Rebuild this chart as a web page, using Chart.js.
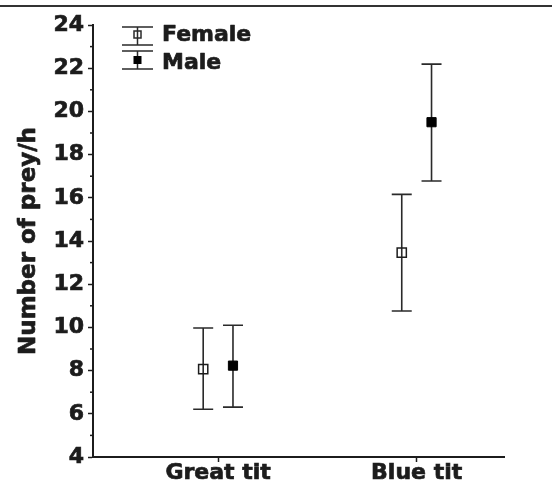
<!DOCTYPE html>
<html>
<head>
<meta charset="utf-8">
<script src="https://cdn.jsdelivr.net/npm/chart.js@4/dist/chart.umd.min.js"></script>
<style>
  html, body { margin: 0; padding: 0; background: #fff; }
  #wrap { width: 552px; height: 486px; }
</style>
</head>
<body>
<div id="wrap"><canvas id="chart" width="552" height="486"></canvas></div>
<script>
// data
const categories = ["Great tit", "Blue tit"];
const seriesNames = ["Female", "Male"];
const femaleMean = [8.07, 13.46];
const femaleUpper = [9.97, 16.16];
const femaleLower = [6.21, 10.76];
const maleMean = [8.23, 19.5];
const maleUpper = [10.1, 22.19];
const maleLower = [6.31, 16.78];
const yMin = 4;
const yMax = 24;
const yStep = 2;
const yTitle = "Number of prey/h";

// look
const ink = "#1c1c1c";
const fontFamily = "'DejaVu Sans', 'Liberation Sans', Arial, sans-serif";
const shift = 0.075; // horizontal dodge between female / male
const capHalf = 10;
const stroke = 0.7; // thickens the bold text a bit

const femalePoints = femaleMean.map((v, i) => ({ x: i + 1 - shift, y: v }));
const malePoints = maleMean.map((v, i) => ({ x: i + 1 + shift, y: v }));

function heavyText(ctx, text, x, y) {
  ctx.lineWidth = stroke;
  ctx.lineJoin = "round";
  ctx.strokeStyle = ink;
  ctx.fillStyle = ink;
  ctx.strokeText(text, x, y);
  ctx.fillText(text, x, y);
}

// error bars, minor ticks, axis title, legend and the top rule
const extras = {
  id: "extras",
  beforeDatasetsDraw(chart) {
    const ctx = chart.ctx;
    const xs = chart.scales.x;
    const ys = chart.scales.y;
    const groups = [
      [femalePoints, femaleUpper, femaleLower],
      [malePoints, maleUpper, maleLower],
    ];
    ctx.save();
    ctx.strokeStyle = "#2a2a2a";
    ctx.lineWidth = 1.6;
    groups.forEach(function (g) {
      g[0].forEach(function (p, i) {
        const px = xs.getPixelForValue(p.x);
        const top = ys.getPixelForValue(g[1][i]);
        const bot = ys.getPixelForValue(g[2][i]);
        ctx.beginPath();
        ctx.moveTo(px, top);
        ctx.lineTo(px, bot);
        ctx.moveTo(px - capHalf, top);
        ctx.lineTo(px + capHalf, top);
        ctx.moveTo(px - capHalf, bot);
        ctx.lineTo(px + capHalf, bot);
        ctx.stroke();
      });
    });
    ctx.restore();
  },
  afterDraw(chart) {
    const ctx = chart.ctx;
    const ys = chart.scales.y;
    const area = chart.chartArea;
    ctx.save();
    // top rule of the figure
    ctx.fillStyle = "#333";
    ctx.fillRect(0, 5, chart.width, 2);

    // minor ticks at odd values
    ctx.strokeStyle = ink;
    ctx.lineWidth = 1.5;
    for (let v = yMin + yStep / 2; v < yMax; v += yStep) {
      const py = ys.getPixelForValue(v);
      ctx.beginPath();
      ctx.moveTo(area.left - 3, py);
      ctx.lineTo(area.left, py);
      ctx.stroke();
    }

    // y axis title
    ctx.save();
    ctx.translate(29, (area.top + area.bottom) / 2);
    ctx.rotate(-Math.PI / 2);
    ctx.font = "bold 23px " + fontFamily;
    ctx.textAlign = "center";
    ctx.textBaseline = "middle";
    heavyText(ctx, yTitle, 0, 0);
    ctx.restore();

    // legend
    const lx = 137.5;
    const lh = 15.5;
    const rows = [
      { top: 27, bot: 45, mid: 34.5, text: 35, filled: false },
      { top: 51, bot: 69, mid: 60, text: 63, filled: true },
    ];
    rows.forEach(function (r, i) {
      ctx.strokeStyle = "#2a2a2a";
      ctx.lineWidth = 1.5;
      ctx.beginPath();
      ctx.moveTo(lx - lh, r.top);
      ctx.lineTo(lx + lh, r.top);
      ctx.moveTo(lx - lh, r.bot);
      ctx.lineTo(lx + lh, r.bot);
      ctx.moveTo(lx, r.top);
      ctx.lineTo(lx, r.bot);
      ctx.stroke();
      if (r.filled) {
        ctx.fillStyle = "#000";
        ctx.fillRect(lx - 4, r.mid - 4, 8, 8);
      } else {
        ctx.strokeRect(lx - 3.5, r.mid - 3.5, 7, 7);
      }
      ctx.font = "bold 22px " + fontFamily;
      ctx.textBaseline = "middle";
      ctx.textAlign = "left";
      heavyText(ctx, seriesNames[i], 162, r.text);
    });
    ctx.restore();
  },
};

const tickFont = { family: fontFamily, size: 22, weight: "bold" };

const myChart = new Chart(document.getElementById("chart"), {
  type: "scatter",
  data: {
    datasets: [
      {
        label: seriesNames[0],
        data: femalePoints,
        pointStyle: "rect",
        pointRadius: 6.5,
        pointBorderWidth: 1.5,
        pointBorderColor: ink,
        pointBackgroundColor: "rgba(0,0,0,0)",
      },
      {
        label: seriesNames[1],
        data: malePoints,
        pointStyle: "rect",
        pointRadius: 6.5,
        pointBorderWidth: 1,
        pointBorderColor: "#000",
        pointBackgroundColor: "#000",
      },
    ],
  },
  options: {
    responsive: false,
    animation: false,
    devicePixelRatio: 1,
    layout: { padding: { left: 0, top: 25, right: 48, bottom: 0 } },
    plugins: {
      legend: { display: false },
      tooltip: { enabled: false },
    },
    scales: {
      x: {
        type: "linear",
        min: 0.37,
        max: 2.44,
        afterBuildTicks: function (s) {
          s.ticks = categories.map((c, i) => ({ value: i + 1 }));
        },
        afterFit: function (s) {
          s.height = 29;
        },
        ticks: {
          callback: (v) => categories[v - 1] || "",
          color: ink,
          font: tickFont,
          textStrokeColor: ink,
          textStrokeWidth: stroke,
          padding: -2,
          maxRotation: 0,
        },
        grid: {
          drawOnChartArea: false,
          tickLength: 5,
          tickColor: ink,
          tickWidth: 1.5,
        },
        border: { color: ink, width: 2 },
      },
      y: {
        min: yMin,
        max: yMax,
        afterFit: function (s) {
          s.width = 93;
        },
        ticks: {
          stepSize: yStep,
          color: ink,
          font: tickFont,
          textStrokeColor: ink,
          textStrokeWidth: stroke,
          padding: 4,
        },
        grid: {
          drawOnChartArea: false,
          tickLength: 5,
          tickColor: ink,
          tickWidth: 1.5,
        },
        border: { color: ink, width: 2 },
      },
    },
  },
  plugins: [extras],
});
</script>
</body>
</html>
